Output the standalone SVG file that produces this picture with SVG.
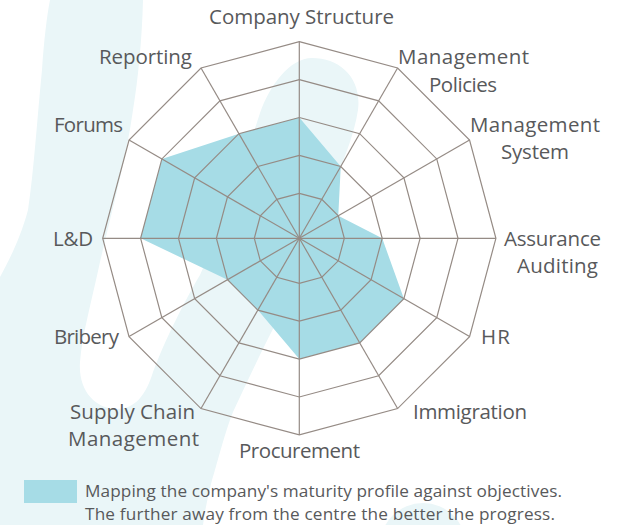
<svg xmlns="http://www.w3.org/2000/svg" width="622" height="525" viewBox="0 0 622 525">
  <style>
    .bg { fill: #eaf6f8; stroke: none; }
    .grid { fill: none; stroke: #958b85; stroke-width: 1.2; }
    .spoke { stroke: #958b85; stroke-width: 1.2; }
    .data { fill: #a6dce6; stroke: none; }
    .lbl { font-family: "Open Sans", "Noto Sans", sans-serif; font-size: 20.5px; fill: #58595b; }
    .leg { font-family: "Open Sans", "Noto Sans", sans-serif; font-size: 17.2px; fill: #58595b; }
    .c { text-anchor: middle; }
    .e { text-anchor: end; }
  </style>
  <rect width="622" height="525" fill="#ffffff"/>
  <g id="background">
    <path class="bg" d="M50,0 L143,0 C142,40 138,80 133,110 C126,160 112,210 100,262 C92,300 82,335 80,362 C78,390 95,409 117,409 C135,409 146,395 153,372 C165,340 185,300 200,275 C220,230 245,160 260,113 C270,85 290,58 312,58 C340,58 362,78 358,110 C354,135 345,155 341,167 C325,220 300,280 273,329 C262,350 248,380 233,412 C225,432 218,460 212,480 C208,495 205,510 203,525 L0,525 L0,277 C8,262 20,240 28,210 C34,170 37,120 42,70 C44,40 47,15 50,0 Z"/>
    <circle class="bg" cx="423" cy="546" r="43"/>
  </g>
  <g id="data-profile">
    <polygon class="data" points="299.3,117.5 340.75,166.51 338.27,215.8 382.2,238.3 403.91,298.7 359.7,342.91 299.3,359.1 257.85,310.09 227.51,279.75 140.6,238.3 161.86,158.95 238.9,133.69"/>
  </g>
  <g id="grid">
    <polygon class="grid" points="299.3,193.3 321.8,199.33 338.27,215.8 344.3,238.3 338.27,260.8 321.8,277.27 299.3,283.3 276.8,277.27 260.33,260.8 254.3,238.3 260.33,215.8 276.8,199.33"/>
    <polygon class="grid" points="299.3,155.4 340.75,166.51 371.09,196.85 382.2,238.3 371.09,279.75 340.75,310.09 299.3,321.2 257.85,310.09 227.51,279.75 216.4,238.3 227.51,196.85 257.85,166.51"/>
    <polygon class="grid" points="299.3,117.5 359.7,133.69 403.91,177.9 420.1,238.3 403.91,298.7 359.7,342.91 299.3,359.1 238.9,342.91 194.69,298.7 178.5,238.3 194.69,177.9 238.9,133.69"/>
    <polygon class="grid" points="299.3,79.6 378.65,100.86 436.74,158.95 458,238.3 436.74,317.65 378.65,375.74 299.3,397 219.95,375.74 161.86,317.65 140.6,238.3 161.86,158.95 219.95,100.86"/>
    <polygon class="grid" points="299.3,41.7 397.6,68.04 469.56,140 495.9,238.3 469.56,336.6 397.6,408.56 299.3,434.9 201,408.56 129.04,336.6 102.7,238.3 129.04,140 201,68.04"/>
    <g id="spokes">
      <line class="spoke" x1="299.3" y1="238.3" x2="299.3" y2="41.7"/>
      <line class="spoke" x1="299.3" y1="238.3" x2="397.6" y2="68.04"/>
      <line class="spoke" x1="299.3" y1="238.3" x2="469.56" y2="140"/>
      <line class="spoke" x1="299.3" y1="238.3" x2="495.9" y2="238.3"/>
      <line class="spoke" x1="299.3" y1="238.3" x2="469.56" y2="336.6"/>
      <line class="spoke" x1="299.3" y1="238.3" x2="397.6" y2="408.56"/>
      <line class="spoke" x1="299.3" y1="238.3" x2="299.3" y2="434.9"/>
      <line class="spoke" x1="299.3" y1="238.3" x2="201" y2="408.56"/>
      <line class="spoke" x1="299.3" y1="238.3" x2="129.04" y2="336.6"/>
      <line class="spoke" x1="299.3" y1="238.3" x2="102.7" y2="238.3"/>
      <line class="spoke" x1="299.3" y1="238.3" x2="129.04" y2="140"/>
      <line class="spoke" x1="299.3" y1="238.3" x2="201" y2="68.04"/>
    </g>
  </g>
  <g id="labels">
    <g id="label-company-structure"><text class="lbl c" x="301.5" y="24" textLength="185">Company Structure</text></g>
    <g id="label-management-policies"><text class="lbl c" x="463.5" y="64" textLength="131">Management</text><text class="lbl c" x="463" y="92" textLength="68">Policies</text></g>
    <g id="label-management-system"><text class="lbl c" x="535" y="132" textLength="130">Management</text><text class="lbl c" x="535" y="159" textLength="68">System</text></g>
    <g id="label-assurance-auditing"><text class="lbl c" x="552.5" y="246" textLength="97">Assurance</text><text class="lbl c" x="557.5" y="273" textLength="81">Auditing</text></g>
    <g id="label-hr"><text class="lbl" x="481" y="344" textLength="29">HR</text></g>
    <g id="label-immigration"><text class="lbl" x="413" y="419" textLength="114">Immigration</text></g>
    <g id="label-procurement"><text class="lbl c" x="299.5" y="458" textLength="121">Procurement</text></g>
    <g id="label-supply-chain"><text class="lbl c" x="132.5" y="419" textLength="125">Supply Chain</text><text class="lbl c" x="133.5" y="446" textLength="131">Management</text></g>
    <g id="label-bribery"><text class="lbl e" x="119" y="344" textLength="65">Bribery</text></g>
    <g id="label-ld"><text class="lbl e" x="93" y="246" textLength="40">L&amp;D</text></g>
    <g id="label-forums"><text class="lbl e" x="123" y="132" textLength="69">Forums</text></g>
    <g id="label-reporting"><text class="lbl e" x="192" y="64" textLength="93">Reporting</text></g>
  </g>
  <g id="legend">
    <rect x="24" y="480" width="53" height="23" fill="#a6dce6"/>
    <text class="leg" x="85" y="497" textLength="477">Mapping the company's maturity profile against objectives.</text>
    <text class="leg" x="85" y="520" textLength="470">The further away from the centre the better the progress.</text>
  </g>
</svg>
